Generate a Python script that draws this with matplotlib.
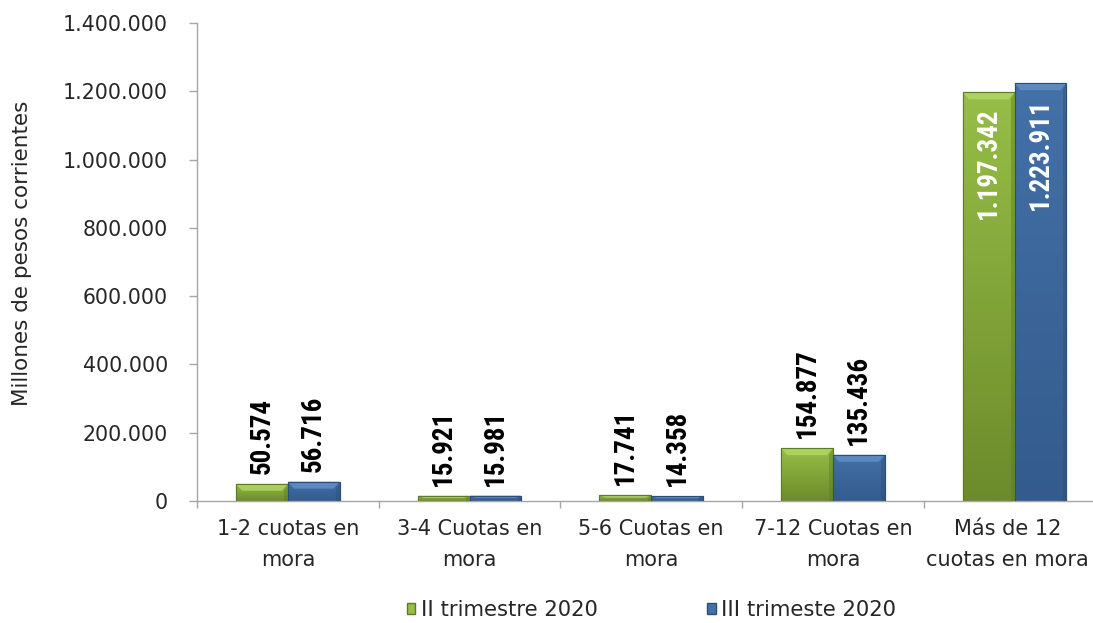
import matplotlib
matplotlib.use('Agg')
import matplotlib.pyplot as plt
import numpy as np
from matplotlib.colors import LinearSegmentedColormap
from matplotlib.ticker import FuncFormatter, FixedLocator
from matplotlib.patches import Rectangle, Polygon
from matplotlib import font_manager as fm
from matplotlib.textpath import TextPath
from matplotlib.transforms import ScaledTranslation

categories = ["1-2 cuotas en\nmora", "3-4 Cuotas en\nmora", "5-6 Cuotas en\nmora",
              "7-12 Cuotas en\nmora", "Más de 12\ncuotas en mora"]
serie_ii = [50574, 15921, 17741, 154877, 1197342]
serie_iii = [56716, 15981, 14358, 135436, 1223911]
series_names = ["II trimestre 2020", "III trimeste 2020"]
yticks = [0, 200000, 400000, 600000, 800000, 1000000, 1200000, 1400000]
ylabel = "Millones de pesos corrientes"

plt.rcParams['font.family'] = ['DejaVu Sans']

# ---- choose a condensed bold face for the value labels (falls back to Liberation Sans Bold)
def pick_label_font():
    prefs = ['Liberation Sans Narrow', 'Arial Narrow', 'Roboto Condensed',
             'Open Sans Condensed', 'Noto Sans Condensed', 'DejaVu Sans']
    for name in prefs:
        for f in fm.fontManager.ttflist:
            if f.name == name and (f.weight in ('bold', 700) or f.weight == 700):
                if name == 'DejaVu Sans' and f.stretch not in ('condensed', 'semi-condensed'):
                    continue
                return fm.FontProperties(fname=f.fname)
    for f in fm.fontManager.ttflist:
        if ('Narrow' in f.name or 'Condensed' in f.name) and f.weight in ('bold', 700):
            return fm.FontProperties(fname=f.fname)
    return fm.FontProperties(family='Liberation Sans', weight='bold')

label_fp = pick_label_font()
_w100 = TextPath((0, 0), "50.574", size=100, prop=label_fp).get_extents().width
label_size = 100 * (74 * 0.72) / _w100   # length of "50.574" ~ 74 px
label_size = min(label_size, 21)

W, H = 1093, 623
fig = plt.figure(figsize=(W / 100, H / 100), dpi=100)
ax_w_px, ax_h_px = 908.5, 478
ax = fig.add_axes([197 / W, 1 - 501 / H, ax_w_px / W, ax_h_px / H])
YMAX = 1400000
ax.set_xlim(-0.5, len(categories) - 0.5)
ax.set_ylim(0, YMAX)

green_top, green_bot, green_edge, green_hi = "#97be47", "#6c8b2b", "#5f7a25", "#b5da6a"
blue_top, blue_bot, blue_edge, blue_hi = "#4371a8", "#345b8c", "#2c4f7a", "#6693c9"

width = 0.285
x = np.arange(len(categories))
px_x = len(categories) / ax_w_px
px_y = YMAX / ax_h_px

def fmt(v):
    return f"{int(v):,}".replace(",", ".")

def gradient_bars(xs, vals, ctop, cbot, cedge, chi):
    bars = ax.bar(xs, vals, width=width, color=cbot, edgecolor=cedge, linewidth=0.8, zorder=2)
    cmap = LinearSegmentedColormap.from_list("g", [cbot, ctop])
    grad = np.linspace(0, 1, 256).reshape(-1, 1)
    for b in bars:
        x0, y0 = b.get_x(), b.get_y()
        w, h = b.get_width(), b.get_height()
        im = ax.imshow(grad, extent=[x0, x0 + w, y0, y0 + h], origin='lower',
                       aspect='auto', cmap=cmap, zorder=2.5)
        im.set_clip_path(b)
        bh = min(7 * px_y, h * 0.45)
        inset = min(6 * px_x, w * 0.2)
        ax.add_patch(Polygon([(x0, y0 + h), (x0 + w, y0 + h), (x0 + w - inset, y0 + h - bh),
                              (x0 + inset, y0 + h - bh)], closed=True, facecolor=chi,
                             edgecolor='none', alpha=0.75, zorder=2.7))
        ax.add_patch(Polygon([(x0 + w, y0 + h), (x0 + w, y0), (x0 + w - inset * 0.6, y0),
                              (x0 + w - inset * 0.6, y0 + h - bh)], closed=True,
                             facecolor=cedge, edgecolor='none', alpha=0.45, zorder=2.7))
        ax.add_patch(Rectangle((x0, y0), w, h, fill=False, edgecolor=cedge,
                               linewidth=0.8, zorder=3))
    return bars

gradient_bars(x - width / 2, serie_ii, green_top, green_bot, green_edge, green_hi)
gradient_bars(x + width / 2, serie_iii, blue_top, blue_bot, blue_edge, blue_hi)

for xs, vals in ((x - width / 2, serie_ii), (x + width / 2, serie_iii)):
    for xi, v in zip(xs, vals):
        if v > 1000000:
            ax.annotate(fmt(v), xy=(xi, v), xytext=(0, -11), textcoords='offset points',
                        ha='center', va='top', rotation=90, fontproperties=label_fp,
                        fontsize=label_size, color='white', zorder=5)
        else:
            ax.annotate(fmt(v), xy=(xi, v), xytext=(0, 7), textcoords='offset points',
                        ha='center', va='bottom', rotation=90, fontproperties=label_fp,
                        fontsize=label_size, color='black', zorder=5)

ax.set_xlim(-0.5, len(categories) - 0.5)
ax.set_ylim(0, YMAX)
ax.set_yticks(yticks)
ax.yaxis.set_major_formatter(FuncFormatter(lambda v, p: fmt(v)))
ax.set_xticks(x)
ax.set_xticklabels(categories, fontsize=15, color='#262626', linespacing=1.7)
ax.xaxis.set_minor_locator(FixedLocator(np.arange(-0.5, len(categories), 1.0)))
ax.tick_params(axis='x', which='major', length=0, pad=13)
ax.tick_params(axis='x', which='minor', length=5, color='#a6a6a6', width=1)
ax.tick_params(axis='y', which='major', length=6, color='#a6a6a6', width=1,
               labelsize=14.8, labelcolor='#262626', pad=15)
# keep the last (right-edge) category label inside the picture
last = ax.get_xticklabels()[-1]
last.set_transform(last.get_transform() + ScaledTranslation(-7 / 100, 0, fig.dpi_scale_trans))

for s in ('top', 'right'):
    ax.spines[s].set_visible(False)
for s in ('left', 'bottom'):
    ax.spines[s].set_color('#a6a6a6')
    ax.spines[s].set_linewidth(1)

fig.text(22 / W, 1 - 253 / H, ylabel, rotation=90, ha='center', va='center',
         fontsize=15.5, color='#262626')

handles = [Rectangle((0, 0), 1, 1, facecolor=green_top, edgecolor=green_edge),
           Rectangle((0, 0), 1, 1, facecolor=blue_top, edgecolor=blue_edge)]
fig.legend(handles, series_names, loc='center', bbox_to_anchor=(651.5 / W, 1 - 610 / H),
           ncol=2, frameon=False, fontsize=15.2, handlelength=0.4, handleheight=0.4,
           handletextpad=0.25, columnspacing=5.2, labelcolor='#262626',
           borderpad=0, borderaxespad=0)

fig.savefig("out.png", dpi=100)
